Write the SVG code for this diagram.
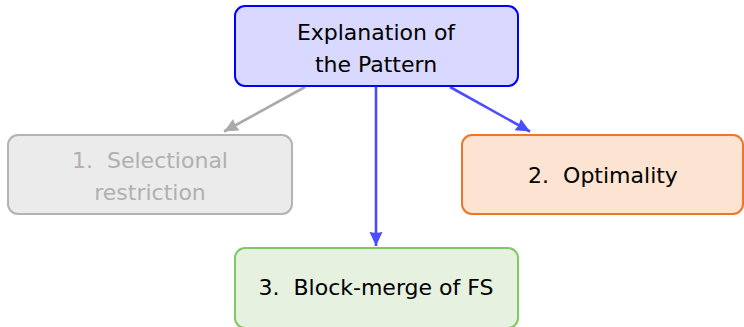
<svg xmlns="http://www.w3.org/2000/svg" width="744" height="327" viewBox="0 0 744 327">
<style>
text{font-family:"DejaVu Sans","Liberation Sans",sans-serif;font-size:22px;text-anchor:middle}
.box{stroke-width:2}
</style>
<defs>
<marker id="ab" viewBox="0 0 14 13" refX="14" refY="6.5" markerWidth="14" markerHeight="13" orient="auto" markerUnits="userSpaceOnUse" overflow="visible"><path d="M0,0 L14,6.5 L0,13 L1,6.5 Z" fill="#4d4dff"/></marker>
<marker id="ag" viewBox="0 0 14 13" refX="14" refY="6.5" markerWidth="14" markerHeight="13" orient="auto" markerUnits="userSpaceOnUse" overflow="visible"><path d="M0,0 L14,6.5 L0,13 L1,6.5 Z" fill="#aaaaaa"/></marker>
</defs>
<rect width="744" height="327" fill="#ffffff"/>
<g id="connectors" fill="none" stroke-width="2.6">
<line x1="305" y1="87" x2="224" y2="131.5" stroke="#aaaaaa" marker-end="url(#ag)"/>
<line x1="376" y1="87" x2="376" y2="246" stroke="#4d4dff" marker-end="url(#ab)"/>
<line x1="450" y1="87" x2="530" y2="131.5" stroke="#4d4dff" marker-end="url(#ab)"/>
</g>
<g id="explanation">
<rect class="box" x="235" y="6" width="283" height="80" rx="10" fill="#d9d9ff" stroke="#0000ff"/>
<text x="376" y="40" fill="#000">Explanation of</text>
<text x="376" y="72" fill="#000">the Pattern</text>
</g>
<g id="selectional">
<rect class="box" x="8" y="135" width="284" height="79" rx="10" fill="#ebebeb" stroke="#b3b3b3"/>
<text x="150" y="168" fill="#b0b0b0" xml:space="preserve">1.  Selectional</text>
<text x="150" y="200" fill="#b0b0b0">restriction</text>
</g>
<g id="optimality">
<rect class="box" x="462" y="135" width="281" height="79" rx="10" fill="#fde3d1" stroke="#f07526"/>
<text x="603" y="183" fill="#000" xml:space="preserve">2.  Optimality</text>
</g>
<g id="blockmerge">
<rect class="box" x="235" y="248" width="283" height="80" rx="10" fill="#e6f1e0" stroke="#80c865"/>
<text x="376" y="295" fill="#000" xml:space="preserve">3.  Block-merge of FS</text>
</g>
</svg>
